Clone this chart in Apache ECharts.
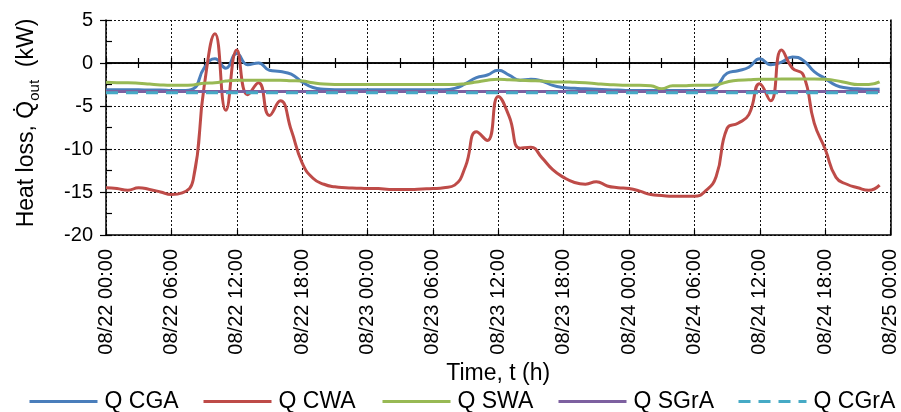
<!DOCTYPE html>
<html>
<head>
<meta charset="utf-8">
<script src="https://cdn.jsdelivr.net/npm/echarts@6/dist/echarts.min.js"></script>
<style>
  html, body { margin: 0; padding: 0; background: #fff; }
  #chart { width: 901px; height: 412px; }
</style>
</head>
<body>
<div id="chart"></div>
<script>
// Hourly heat loss (kW), 08/22 00:00 onward, one value per hour
const qCGA = [
  -3.1, -3.1, -3.1, -3.1, -3.15, -3.15, -3.2, -3.2, -3.0, -0.6,
   0.5, -0.6,  1.1, -0.2,  0.0, -0.85, -1.0, -1.3, -2.2, -2.85,
  -3.05, -3.1, -3.1, -3.1, -3.1, -3.1, -3.1, -3.1, -3.1, -3.1,
  -3.1, -3.1, -2.95, -2.4, -1.7, -1.4, -0.85, -1.4, -2.0, -1.9,
  -2.1, -2.6, -2.85, -2.95, -3.0, -3.05, -3.1, -3.15, -3.2, -3.2,
  -3.2, -3.2, -3.2, -3.2, -3.2, -3.2, -2.8, -1.2, -0.9, -0.5,
   0.5, -0.2,  0.1,  0.7,  0.3, -1.0, -1.8, -2.6, -2.9, -3.0,
  -3.05, -3.05
];
const qCWA = [
  -14.5, -14.6, -14.8, -14.5, -14.7, -15.0, -15.3, -15.1, -13.6, -2.8,
    3.4,  -5.5,   1.5,  -3.7,  -2.3,  -6.1,  -4.4,  -7.8, -11.6, -13.4,
  -14.1, -14.4, -14.5, -14.55, -14.6, -14.6, -14.7, -14.7, -14.7, -14.65,
  -14.6, -14.5, -14.2, -12.0,  -8.0,  -9.0,  -3.9,  -6.2,  -9.9,  -9.8,
  -11.0, -12.4, -13.3, -13.9, -14.1, -13.8, -14.3, -14.5, -14.6, -14.9,
  -15.3, -15.4, -15.5, -15.5, -15.5, -14.9, -13.2,  -7.6,  -7.0,  -6.0,
   -2.4,  -4.4,   1.5,  -0.6,  -1.4,  -7.0, -10.0, -13.3, -14.1, -14.5,
  -14.8, -14.2
];
const qSWA = [
  -2.25, -2.3, -2.3, -2.35, -2.45, -2.55, -2.6, -2.6, -2.55, -2.35,
  -2.3, -2.1, -2.0, -2.0, -2.0, -2.0, -2.0, -2.05, -2.1, -2.3,
  -2.45, -2.5, -2.5, -2.5, -2.5, -2.5, -2.5, -2.5, -2.5, -2.5,
  -2.5, -2.5, -2.5, -2.4, -2.2, -2.0, -1.9, -1.95, -2.0, -2.05,
  -2.1, -2.2, -2.2, -2.25, -2.3, -2.4, -2.5, -2.55, -2.6, -2.6,
  -2.65, -3.0, -2.65, -2.65, -2.6, -2.6, -2.55, -2.2, -2.0, -1.95,
  -1.9, -1.9, -1.85, -1.85, -1.85, -1.85, -1.9, -2.05, -2.3, -2.5,
  -2.5, -2.2
];
// Flat series, sampled at a few hours
const flatHours = [0, 12, 24, 36, 48, 60, 71];
const qSGrA = [-3.3, -3.3, -3.3, -3.3, -3.3, -3.3, -3.3];
const qCGrA = [-3.45, -3.45, -3.45, -3.45, -3.45, -3.45, -3.45];

const seriesNames = ['Q CGA', 'Q CWA', 'Q SWA', 'Q SGrA', 'Q CGrA'];
const seriesColors = ['#4a7ebb', '#be4b48', '#98b954', '#7d60a0', '#46aac5'];
const xTickLabels = [
  '08/22 00:00', '08/22 06:00', '08/22 12:00', '08/22 18:00',
  '08/23 00:00', '08/23 06:00', '08/23 12:00', '08/23 18:00',
  '08/24 00:00', '08/24 06:00', '08/24 12:00', '08/24 18:00',
  '08/25 00:00'
];
const yTicks = { min: -20, max: 5, step: 5 };

const FONT = 'Liberation Sans, Arial, sans-serif';
const hourly = arr => arr.map((v, i) => [i, v]);
const sampled = (hrs, arr) => hrs.map((h, i) => [h, arr[i]]);

const axisLine = { color: '#000', width: 1.5 };
const dotted = { color: '#111', width: 1, type: [2, 2] };
const dashPattern = [12, 8];

const chart = echarts.init(document.getElementById('chart'), null, { renderer: 'canvas' });

const seriesData = [hourly(qCGA), hourly(qCWA), hourly(qSWA), sampled(flatHours, qSGrA), sampled(flatHours, qCGrA)];
const legendLeft = [28, 202, 381, 557, 737];

chart.setOption({
  animation: false,
  textStyle: { fontFamily: FONT },
  grid: { left: 106, right: 10.5, top: 20, bottom: 177, containLabel: false },
  xAxis: [
    {
      type: 'value', min: 0, max: 72, interval: 6, position: 'bottom',
      axisLine: { onZero: false, lineStyle: axisLine },
      axisTick: { inside: true, length: 5, lineStyle: { color: '#000', width: 1.2 } },
      axisLabel: {
        rotate: 90, margin: 14, fontSize: 20, color: '#000', fontFamily: FONT,
        formatter: v => xTickLabels[Math.round(v / 6)] || ''
      },
      splitLine: { show: true, lineStyle: dotted },
      name: 'Time, t (h)', nameLocation: 'middle', nameGap: 116,
      nameTextStyle: { fontSize: 23, color: '#000', fontFamily: FONT }
    },
    {
      type: 'value', min: 0, max: 72, interval: 3, position: 'top',
      axisLine: { onZero: true, onZeroAxisIndex: 0, lineStyle: axisLine },
      axisTick: { inside: true, length: 5, lineStyle: { color: '#000', width: 1.2 } },
      axisLabel: { show: false }, splitLine: { show: false }
    },
    {
      type: 'value', min: 0, max: 72, interval: 3, position: 'top',
      axisLine: { onZero: true, onZeroAxisIndex: 0, lineStyle: axisLine },
      axisTick: { inside: false, length: 5, lineStyle: { color: '#000', width: 1.2 } },
      axisLabel: { show: false }, splitLine: { show: false }
    }
  ],
  yAxis: [
    {
      type: 'value', min: yTicks.min, max: yTicks.max, interval: yTicks.step, position: 'left',
      axisLine: { onZero: false, lineStyle: axisLine },
      axisTick: { inside: false, length: 6, lineStyle: { color: '#000', width: 1.2 } },
      axisLabel: { fontSize: 20, color: '#000', margin: 13, fontFamily: FONT },
      splitLine: { show: true, lineStyle: dotted }
    },
    {
      type: 'value', min: yTicks.min, max: yTicks.max, interval: yTicks.step / 2, position: 'left',
      axisLine: { onZero: false, show: false },
      axisTick: { inside: true, length: 6, lineStyle: { color: '#000', width: 1.2 } },
      axisLabel: { show: false }, splitLine: { show: false }
    },
    {
      type: 'value', min: yTicks.min, max: yTicks.max, interval: yTicks.step, position: 'right',
      axisLine: { onZero: false, lineStyle: axisLine },
      axisTick: { show: false }, axisLabel: { show: false }, splitLine: { show: false }
    }
  ],
  legend: seriesNames.map((n, i) => ({
    data: [n], left: legendLeft[i], top: 390, padding: 0,
    itemWidth: 68, itemHeight: 6, itemGap: 0,
    itemStyle: { opacity: 0 },
    lineStyle: { width: 3, type: i === 4 ? dashPattern : 'solid', opacity: 1 },
    textStyle: { fontSize: 23, color: '#000', fontFamily: FONT, padding: [0, 0, 0, 2] }
  })),
  series: seriesNames.map((n, i) => ({
    name: n, type: 'line', data: seriesData[i],
    smooth: i < 3 ? 0.5 : false, symbol: 'none',
    color: seriesColors[i],
    lineStyle: { width: 3, color: seriesColors[i], type: i === 4 ? dashPattern : 'solid' }
  })),
  graphic: [{
    type: 'text', x: 27, y: 123, rotation: Math.PI / 2,
    style: {
      text: '{a|Heat loss, Q\u0307}{s|out}{a|  (kW)}',
      align: 'center', verticalAlign: 'middle', fill: '#000',
      rich: {
        a: { fontSize: 23, fontFamily: FONT, fill: '#000', lineHeight: 30, verticalAlign: 'middle' },
        s: { fontSize: 15, fontFamily: FONT, fill: '#000', lineHeight: 30, verticalAlign: 'bottom' }
      }
    }
  }]
});
</script>
</body>
</html>
